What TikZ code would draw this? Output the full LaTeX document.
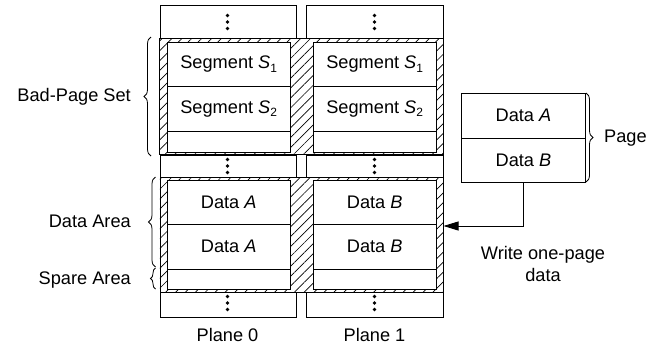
\documentclass[tikz,border=0pt]{standalone}
\usepackage{fontspec}
\setmainfont{Liberation Sans}
\usetikzlibrary{patterns.meta,decorations.pathreplacing,arrows.meta}
\newcommand\mysub[1]{\raisebox{-0.4ex}{\fontsize{12}{12}\selectfont #1}}
\newcommand\myvdots[2]{\foreach \dy in {-6.5,0,6.5}{\fill (#1,#2+\dy) circle (1.8);}}
\begin{document}
\begin{tikzpicture}[x=1pt,y=-1pt, font=\fontsize{18.2}{22}\selectfont,
  box/.style={draw, line width=0.9pt, fill=white, inner sep=0pt, anchor=north west},
  hatch/.style={draw, line width=0.9pt, pattern={Lines[angle=45,distance=7pt,line width=0.7pt]}, inner sep=0pt, anchor=north west},
  lbl/.style={inner sep=0pt},
  brc/.style={decorate, decoration={brace, amplitude=7pt}, line width=0.8pt}]
\useasboundingbox (0,0) rectangle (669,349);
% top dots boxes
\node[box, minimum width=136.5, minimum height=33] (t0) at (159.5,5) {};
\node[box, minimum width=137, minimum height=33] (t1) at (306,5) {};
\myvdots{227.5}{22}
\myvdots{374.5}{22}
% hatched region 1
\node[hatch, minimum width=283.5, minimum height=116] (hA) at (159.5,38.5) {};
\node[box, minimum width=123.5, minimum height=44.5] (a00) at (166.5,41.5) {Segment \textit{S}\mysub{1}};
\node[box, minimum width=123.5, minimum height=44.5] (a01) at (166.5,86) {Segment \textit{S}\mysub{2}};
\node[box, minimum width=123.5, minimum height=21] (a02) at (166.5,130.5) {};
\node[box, minimum width=123.5, minimum height=44.5] (a10) at (312.5,41.5) {Segment \textit{S}\mysub{1}};
\node[box, minimum width=123.5, minimum height=44.5] (a11) at (312.5,86) {Segment \textit{S}\mysub{2}};
\node[box, minimum width=123.5, minimum height=21] (a12) at (312.5,130.5) {};
% middle dots boxes
\node[box, minimum width=136.5, minimum height=22.5] (m0) at (159.5,154.5) {};
\node[box, minimum width=137, minimum height=22.5] (m1) at (306,154.5) {};
\myvdots{227.5}{166}
\myvdots{374.5}{166}
% hatched region 2
\node[hatch, minimum width=283.5, minimum height=114.5] (hB) at (159.5,177) {};
\node[box, minimum width=123.5, minimum height=43.5] (b00) at (166.5,180) {Data \textit{A}};
\node[box, minimum width=123.5, minimum height=45] (b01) at (166.5,223.5) {Data \textit{A}};
\node[box, minimum width=123.5, minimum height=20] (b02) at (166.5,268.5) {};
\node[box, minimum width=123.5, minimum height=43.5] (b10) at (312.5,180) {Data \textit{B}};
\node[box, minimum width=123.5, minimum height=45] (b11) at (312.5,223.5) {Data \textit{B}};
\node[box, minimum width=123.5, minimum height=20] (b12) at (312.5,268.5) {};
% bottom dots boxes
\node[box, minimum width=136.5, minimum height=25] (u0) at (159.5,291.5) {};
\node[box, minimum width=137, minimum height=25] (u1) at (306,291.5) {};
\myvdots{227.5}{303}
\myvdots{374.5}{303}
% plane labels
\node[lbl] (p0) at (227.5,335) {Plane 0};
\node[lbl] (p1) at (374.5,335) {Plane 1};
% page box
\node[box, minimum width=124, minimum height=44.7] (pA) at (461,93) {Data \textit{A}};
\node[box, minimum width=124, minimum height=44] (pB) at (461,137.7) {Data \textit{B}};
% braces
\draw[brc] (151,156) -- (151,37);
\node[lbl, anchor=east] (lbad) at (131,97) {Bad-Page Set};
\draw[brc] (155.5,267) -- (155.5,177);
\node[lbl, anchor=east] (ldata) at (131,221) {Data Area};
\draw[brc, decoration={amplitude=5pt}] (155.5,289) -- (155.5,268);
\node[lbl, anchor=east] (lspare) at (131,280) {Spare Area};
\draw[brc] (586,93) -- (586,182);
\node[lbl, anchor=west] (lpage) at (604,138) {Page};
% arrow
\coordinate (tgt) at (443.5,226);
\draw[line width=0.9pt, -{Triangle[length=15pt,width=9pt]}] (pB.south) |- (tgt);
\node[lbl, align=center] (lw) at (543,264) {Write one-page\\data};
\end{tikzpicture}
\end{document}
